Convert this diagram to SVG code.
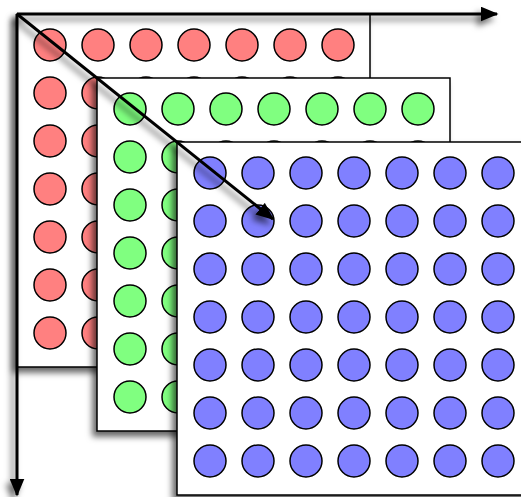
<svg xmlns="http://www.w3.org/2000/svg" xmlns:xlink="http://www.w3.org/1999/xlink" width="521" height="497" viewBox="0 0 521 497">
<style>
.sheet{fill:#ffffff;stroke:#000;stroke-width:1.5}
.dot{stroke:#000;stroke-width:1.5}
.axis{stroke:#000;stroke-width:3;fill:none}
</style>
<defs>
<filter id="sh" x="-10%" y="-10%" width="120%" height="120%">
<feDropShadow dx="-4" dy="5" stdDeviation="3" flood-color="#000" flood-opacity="0.6"/>
</filter>
<marker id="ah" markerWidth="6" markerHeight="5" refX="5.5" refY="2.5" orient="auto" markerUnits="strokeWidth">
<path d="M0,0 L6,2.5 L0,5 Z" fill="#000"/>
</marker>
<g id="row">
<circle class="dot" cx="33" cy="31" r="16"/>
<circle class="dot" cx="81" cy="31" r="16"/>
<circle class="dot" cx="129" cy="31" r="16"/>
<circle class="dot" cx="177" cy="31" r="16"/>
<circle class="dot" cx="225" cy="31" r="16"/>
<circle class="dot" cx="273" cy="31" r="16"/>
<circle class="dot" cx="321" cy="31" r="16"/>
</g>
<g id="grid">
<use xlink:href="#row"/>
<use xlink:href="#row" y="48"/>
<use xlink:href="#row" y="96"/>
<use xlink:href="#row" y="144"/>
<use xlink:href="#row" y="192"/>
<use xlink:href="#row" y="240"/>
<use xlink:href="#row" y="288"/>
</g>
</defs>
<rect width="521" height="497" fill="#fff"/>
<g id="layer-red" transform="translate(17,14)">
<rect class="sheet" width="353" height="353" filter="url(#sh)"/>
<use xlink:href="#grid" fill="#ff8080"/>
</g>
<g id="layer-green" transform="translate(97,78)">
<rect class="sheet" width="353" height="353" filter="url(#sh)"/>
<use xlink:href="#grid" fill="#80ff80"/>
</g>
<g id="layer-blue" transform="translate(177,142)">
<rect class="sheet" width="353" height="353" filter="url(#sh)"/>
<use xlink:href="#grid" fill="#8080ff"/>
</g>
<g id="connectors" filter="url(#sh)">
<line class="axis" x1="17" y1="14" x2="497" y2="14" marker-end="url(#ah)"/>
<line class="axis" x1="17" y1="14" x2="17" y2="495" marker-end="url(#ah)"/>
<line class="axis" x1="17" y1="14" x2="273" y2="219" marker-end="url(#ah)"/>
</g>
</svg>
